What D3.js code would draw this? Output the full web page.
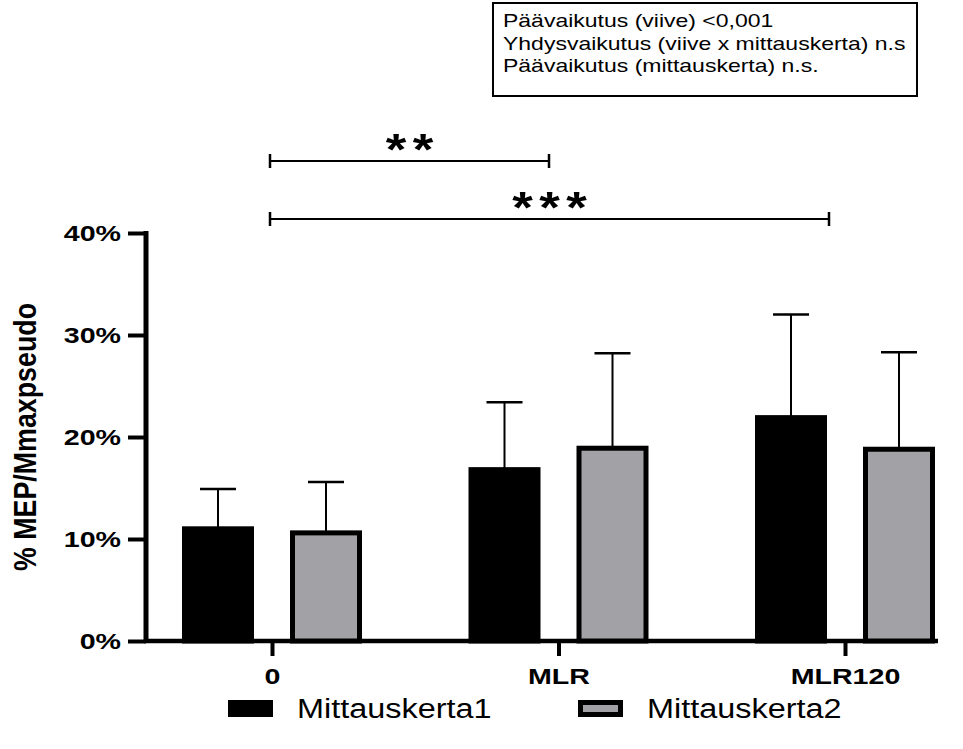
<!DOCTYPE html>
<html>
<head>
<meta charset="utf-8">
<script src="https://cdn.jsdelivr.net/npm/d3@7"></script>
<style>
  html, body { margin: 0; padding: 0; background: #fff; }
  svg { display: block; }
  text { font-family: "Liberation Sans", Arial, sans-serif; }
</style>
</head>
<body>
<svg id="chart" width="963" height="749"></svg>
<script>
// ---- data ----
const categories = ["0", "MLR", "MLR120"];
const seriesNames = ["Mittauskerta1", "Mittauskerta2"];
const meanM1 = [0.110, 0.168, 0.219];
const sdM1   = [0.039, 0.066, 0.101];
const meanM2 = [0.106, 0.189, 0.188];
const sdM2   = [0.050, 0.093, 0.095];
const yTicks = [0, 0.1, 0.2, 0.3, 0.4];
const yLabel = "% MEP/Mmaxpseudo";
const statLines = [
  "Päävaikutus (viive) <0,001",
  "Yhdysvaikutus (viive x mittauskerta) n.s",
  "Päävaikutus (mittauskerta) n.s."
];
const comparisons = [
  { from: "0", to: "MLR", label: "**" },
  { from: "0", to: "MLR120", label: "***" }
];

// ---- layout ----
const svg = d3.select("#chart");
const y = d3.scaleLinear().domain([0, 0.4]).range([641, 233]);
const x = d3.scalePoint().domain(categories).range([272, 845]);
const series = d3.scaleOrdinal().domain(seriesNames).range([-54, 54]);
const fillColor = d3.scaleOrdinal().domain(seriesNames).range(["#000000", "#a2a1a6"]);
const barW = 72;

function fitText(sel, factor) {
  sel.each(function () {
    const w = this.getComputedTextLength();
    d3.select(this).attr("textLength", w * factor).attr("lengthAdjust", "spacingAndGlyphs");
  });
}

// y axis
const yAxis = svg.append("g").attr("transform", "translate(146,0)")
  .call(d3.axisLeft(y).tickValues(yTicks).tickFormat(d3.format(".0%")).tickSize(18).tickPadding(7));
yAxis.select(".domain").attr("stroke", "#000").attr("stroke-width", 5).attr("d", "M0," + (y(0.4) - 2) + "V" + (y(0) + 2));
yAxis.selectAll(".tick line").attr("stroke", "#000").attr("stroke-width", 4);
yAxis.selectAll(".tick text").attr("fill", "#000").attr("font-size", 22).attr("font-weight", "bold")
  .attr("font-family", "Liberation Sans, Arial, sans-serif").attr("dy", "0.36em");
fitText(yAxis.selectAll(".tick text"), 1.3);

// x axis
const xAxis = svg.append("g").attr("transform", "translate(0," + y(0) + ")")
  .call(d3.axisBottom(x).tickSize(15).tickPadding(12));
xAxis.select(".domain").attr("stroke", "#000").attr("stroke-width", 4.5).attr("d", "M144,0H938");
xAxis.selectAll(".tick line").attr("stroke", "#000").attr("stroke-width", 4);
xAxis.selectAll(".tick text").attr("fill", "#000").attr("font-size", 22).attr("font-weight", "bold")
  .attr("font-family", "Liberation Sans, Arial, sans-serif");
fitText(xAxis.selectAll(".tick text"), 1.3);

// bars
const rows = [];
categories.forEach((c, i) => {
  rows.push({ cat: c, s: seriesNames[0], mean: meanM1[i], sd: sdM1[i] });
  rows.push({ cat: c, s: seriesNames[1], mean: meanM2[i], sd: sdM2[i] });
});

const g = svg.append("g");
g.selectAll("line.err").data(rows).join("line").attr("class", "err")
  .attr("x1", d => x(d.cat) + series(d.s)).attr("x2", d => x(d.cat) + series(d.s))
  .attr("y1", d => y(d.mean)).attr("y2", d => y(d.mean + d.sd))
  .attr("stroke", "#000").attr("stroke-width", 2);
g.selectAll("line.cap").data(rows).join("line").attr("class", "cap")
  .attr("x1", d => x(d.cat) + series(d.s) - 18).attr("x2", d => x(d.cat) + series(d.s) + 18)
  .attr("y1", d => y(d.mean + d.sd)).attr("y2", d => y(d.mean + d.sd))
  .attr("stroke", "#000").attr("stroke-width", 2.5);

g.selectAll("rect.bar").data(rows).join("rect").attr("class", "bar")
  .attr("x", d => x(d.cat) + series(d.s) - barW / 2 + 2.5)
  .attr("width", barW - 5)
  .attr("y", d => y(d.mean))
  .attr("height", d => y(0) - y(d.mean))
  .attr("fill", d => fillColor(d.s))
  .attr("stroke", "#000").attr("stroke-width", 5);

// y label
svg.append("text")
  .attr("transform", "translate(36,437) scale(1.25,1) rotate(-90)")
  .attr("text-anchor", "middle")
  .attr("font-size", 25).attr("font-weight", "bold")
  .attr("textLength", 268).attr("lengthAdjust", "spacingAndGlyphs")
  .text(yLabel);

// stats box
svg.append("rect").attr("x", 493).attr("y", 3).attr("width", 424).attr("height", 93)
  .attr("fill", "#fff").attr("stroke", "#000").attr("stroke-width", 2);
const st = svg.selectAll("text.stat").data(statLines).join("text").attr("class", "stat")
  .attr("x", 503).attr("y", (d, i) => 27 + i * 22.5)
  .attr("font-size", 19).text(d => d);
fitText(st, 1.21);

// significance brackets
const brY = [161, 219];
const brEnd = { "MLR": 549, "MLR120": 829 };
comparisons.forEach((c, i) => {
  const x0 = x(c.from) - 2, x1 = brEnd[c.to];
  const yy = brY[i];
  svg.append("line").attr("x1", x0).attr("x2", x1).attr("y1", yy).attr("y2", yy)
    .attr("stroke", "#000").attr("stroke-width", 2);
  [x0, x1].forEach(xx => svg.append("line").attr("x1", xx).attr("x2", xx)
    .attr("y1", yy - 7).attr("y2", yy + 7).attr("stroke", "#000").attr("stroke-width", 2.5));
  const chars = c.label.split("");
  const step = 27;
  const mid = (x0 + x1) / 2;
  chars.forEach((ch, k) => {
    const cx = mid + (k - (chars.length - 1) / 2) * step;
    svg.append("text")
      .attr("transform", "translate(" + cx + "," + (yy + 4) + ") scale(1.2,1)")
      .attr("text-anchor", "middle").attr("font-size", 44).attr("font-weight", "bold")
      .text(ch);
  });
});

// legend
const legX = [228, 578];
seriesNames.forEach((s, i) => {
  svg.append("rect").attr("x", legX[i] + 2.5).attr("y", 702.5).attr("width", 40).attr("height", 12)
    .attr("fill", fillColor(s)).attr("stroke", "#000").attr("stroke-width", 5);
  const t = svg.append("text").attr("x", legX[i] + 69).attr("y", 718)
    .attr("font-size", 27).text(s);
  fitText(t, 1.2);
});
</script>
</body>
</html>
